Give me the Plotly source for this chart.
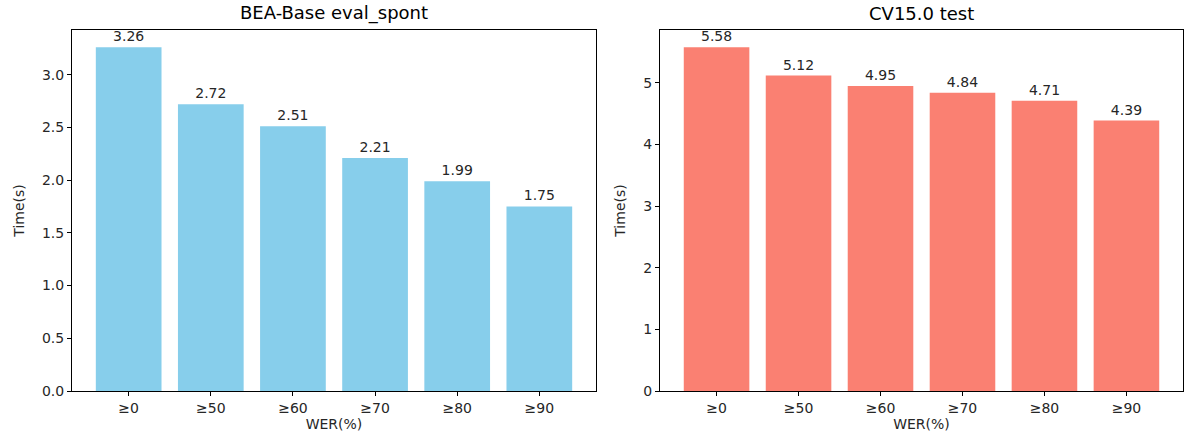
import plotly.graph_objects as go

categories = ["≥0", "≥50", "≥60", "≥70", "≥80", "≥90"]
bea_values = [3.26, 2.72, 2.51, 2.21, 1.99, 1.75]
cv_values = [5.58, 5.12, 4.95, 4.84, 4.71, 4.39]
titles = ["BEA-Base eval_spont", "CV15.0 test"]

W, H = 1184, 437
FONT = "DejaVu Sans"
TXT = "#262626"
FS = 14

fig = go.Figure()
x_idx = list(range(len(categories)))

def add_panel(i, vals, color, ticks, xdom):
    xa = "x" if i == 0 else "x2"
    ya = "y" if i == 0 else "y2"
    fig.add_trace(go.Bar(
        x=x_idx, y=vals, width=0.8, marker=dict(color=color, line=dict(width=0)),
        text=[f"{v:.2f}" for v in vals], textposition="outside",
        textfont=dict(family=FONT, size=FS, color=TXT), cliponaxis=False,
        xaxis=xa, yaxis=ya, showlegend=False, hoverinfo="skip"))
    ymax = max(vals) * 1.05
    axx = dict(domain=xdom, range=[-0.69, len(categories) - 1 + 0.69], automargin=False,
               tickvals=x_idx, ticktext=categories, ticks="outside", ticklen=4,
               tickcolor="#000", showline=True, linecolor="#000", linewidth=1, mirror=True,
               showgrid=False, zeroline=False, anchor=ya,
               tickfont=dict(family=FONT, size=FS, color=TXT),
               title=dict(text="WER(%)", font=dict(family=FONT, size=FS, color=TXT), standoff=3))
    axy = dict(domain=[1 - 391 / H, 1 - 30 / H], range=[0, ymax], tickvals=ticks, automargin=False,
               ticktext=[(f"{t:.1f}" if i == 0 else f"{t:d}") for t in ticks],
               ticks="outside", ticklen=4, tickcolor="#000", showline=True,
               linecolor="#000", linewidth=1, mirror=True, showgrid=False, zeroline=False,
               anchor=xa, tickfont=dict(family=FONT, size=FS, color=TXT),
               title=dict(text="Time(s)", font=dict(family=FONT, size=FS, color=TXT), standoff=14))
    if i == 0:
        fig.update_layout(xaxis=axx, yaxis=axy)
    else:
        fig.update_layout(xaxis2=axx, yaxis2=axy)
    fig.add_annotation(text=titles[i], x=(xdom[0] + xdom[1]) / 2, y=1 - 13 / H,
                       xref="paper", yref="paper", showarrow=False, xanchor="center",
                       yanchor="middle", font=dict(family=FONT, size=18, color="#000"))

add_panel(0, bea_values, "#87CEEB", [0.0, 0.5, 1.0, 1.5, 2.0, 2.5, 3.0], [72 / W, 596 / W])
add_panel(1, cv_values, "#FA8072", [0, 1, 2, 3, 4, 5], [660 / W, 1183 / W])

fig.update_layout(width=W, height=H, margin=dict(l=0, r=0, t=0, b=0, autoexpand=False),
                  plot_bgcolor="white", paper_bgcolor="white", bargap=0.2)
fig.write_html("out.html", config={"displayModeBar": False},
               post_script="document.body.style.margin='0';")
